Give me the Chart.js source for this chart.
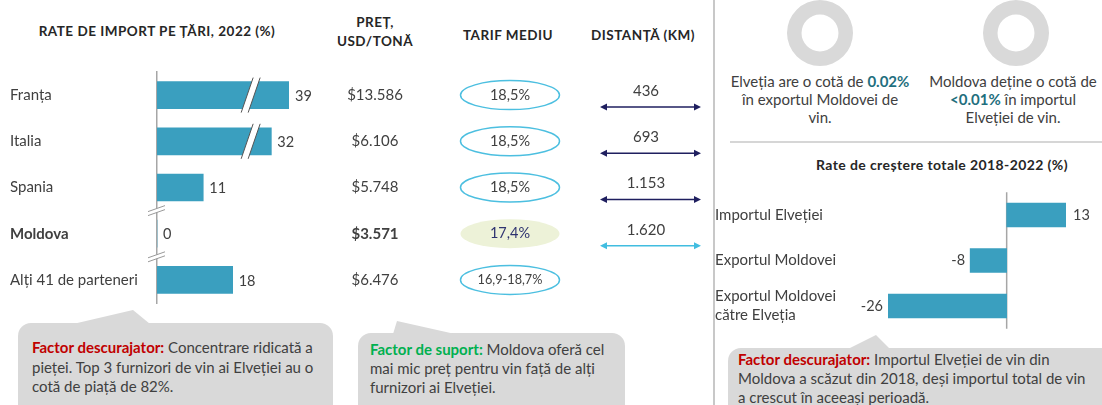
<!DOCTYPE html>
<html>
<head>
<meta charset="utf-8">
<script src="https://cdn.jsdelivr.net/npm/chart.js@4.4.1/dist/chart.umd.min.js"></script>
<style>
  body { margin: 0; width: 1102px; height: 405px; overflow: hidden; background: #fff; position: relative;
         font-family: Lato, "Open Sans", sans-serif; color: #404040; }
  .abs { position: absolute; white-space: nowrap; }
  .hdr { font-weight: bold; font-size: 13.5px; letter-spacing: 0.5px; color: #262626; text-align: center; }
  .txt { font-size: 15px; line-height: 19.5px; }
  .red { color: #c00000; font-weight: bold; }
  .green { color: #00b050; font-weight: bold; }
  .teal { color: #1f6f7e; font-weight: bold; }
  canvas { position: absolute; }
</style>
</head>
<body>

<svg class="abs" style="left:0;top:0" width="1102" height="405">
  <line x1="714" y1="0" x2="714" y2="405" stroke="#c8c8c8" stroke-width="2"/>
  <line x1="730" y1="142" x2="1102" y2="142" stroke="#c8c8c8" stroke-width="1.5"/>
  <!-- baloane -->
  <rect x="18" y="323" width="315" height="110" rx="13" fill="#d9d9d9"/>
  <polygon points="73,324 133,310 150,324" fill="#d9d9d9"/>
  <rect x="358" y="333" width="267" height="110" rx="13" fill="#d9d9d9"/>
  <polygon points="393,334 397,321 455,334" fill="#d9d9d9"/>
  <rect x="728" y="348" width="390" height="110" rx="13" fill="#d9d9d9"/>
  <polygon points="848,349 876,335 890,349" fill="#d9d9d9"/>
</svg>

<div class="abs hdr" style="left:0;top:23px;width:314px;line-height:16px">RATE DE IMPORT PE ȚĂRI, 2022 (%)</div>
<div class="abs hdr" style="left:315px;top:13px;width:120px;line-height:19px">PREȚ,<br>USD/TONĂ</div>
<div class="abs hdr" style="left:448px;top:27px;width:120px;line-height:16px">TARIF MEDIU</div>
<div class="abs hdr" style="left:573px;top:27px;width:140px;line-height:16px">DISTANȚĂ (KM)</div>

<canvas id="importChart" width="710" height="255" style="left:0;top:60px"></canvas>

<canvas id="ringElvetia" width="66" height="66" style="left:787px;top:0"></canvas>
<canvas id="ringMoldova" width="66" height="66" style="left:983px;top:0"></canvas>

<div class="abs txt" style="left:715px;top:72px;width:210px;text-align:center;line-height:18px">
  Elveția are o cotă de <span class="teal">0.02%</span><br>în exportul Moldovei de<br>vin.</div>
<div class="abs txt" style="left:918px;top:72px;width:190px;text-align:center;line-height:18px">
  Moldova deține o cotă de<br><span class="teal">&lt;0.01%</span> în importul<br>Elveției de vin.</div>

<div class="abs hdr" style="left:782px;top:157px;width:320px;line-height:16px;font-size:14px;letter-spacing:0.4px">Rate de creștere totale 2018-2022 (%)</div>

<canvas id="growthChart" width="387" height="160" style="left:715px;top:180px"></canvas>

<div class="abs txt" style="left:32px;top:338px">
  <span class="red">Factor descurajator:</span> Concentrare ridicată a<br>pieței. Top 3 furnizori de vin ai Elveției au o<br>cotă de piață de 82%.</div>
<div class="abs txt" style="left:370px;top:340px;line-height:19px">
  <span class="green">Factor de suport:</span> Moldova oferă cel<br>mai mic preț pentru vin față de alți<br>furnizori ai Elveției.</div>
<div class="abs txt" style="left:738px;top:350px;line-height:19px">
  <span class="red">Factor descurajator:</span> Importul Elveției de vin din<br>Moldova a scăzut din 2018, deși importul total de vin<br>a crescut în aceeași perioadă.</div>

<script>
// date
const tari = ['Franța', 'Italia', 'Spania', 'Moldova', 'Alți 41 de parteneri'];
const cotaImport = [39, 32, 11, 0, 18];
const pret = ['$13.586', '$6.106', '$5.748', '$3.571', '$6.476'];
const tarif = ['18,5%', '18,5%', '18,5%', '17,4%', '16,9-18,7%'];
const distanta = ['436', '693', '1.153', '1.620', ''];

const indicatori = ['Importul Elveției', 'Exportul Moldovei', ['Exportul Moldovei', 'către Elveția']];
const cresteri = [13, -8, -26];

const cotaElvetia = [0.02, 99.98];
const cotaMoldova = [0.01, 99.99];

const albastru = '#3a9fbf';
const text = '#404040';
const font = 'Lato, "Open Sans", sans-serif';
const randMoldova = 3;

// axa cu ruptura: peste 20% barele sunt comprimate
const rupere = 20;
const compresie = 0.6;
const semnRupere = 24;

class BrokenScale extends Chart.LinearScale {
    getPixelForValue(v) {
        if (v === null || v === undefined) return NaN;
        const vv = v > rupere ? rupere + (v - rupere) * compresie : v;
        return super.getPixelForValue(vv);
    }
    getValueForPixel(p) {
        const vv = super.getValueForPixel(p);
        return vv > rupere ? rupere + (vv - rupere) / compresie : vv;
    }
}
BrokenScale.id = 'broken';
BrokenScale.defaults = Chart.LinearScale.defaults;
Chart.register(BrokenScale);

Chart.defaults.font.family = font;
Chart.defaults.color = text;

function sageata(ctx, x1, x2, y, culoare) {
    ctx.strokeStyle = culoare;
    ctx.fillStyle = culoare;
    ctx.lineWidth = 1.5;
    ctx.beginPath();
    ctx.moveTo(x1 + 4, y);
    ctx.lineTo(x2 - 4, y);
    ctx.stroke();
    ctx.beginPath();
    ctx.moveTo(x1, y); ctx.lineTo(x1 + 7, y - 3.5); ctx.lineTo(x1 + 7, y + 3.5); ctx.closePath();
    ctx.moveTo(x2, y); ctx.lineTo(x2 - 7, y - 3.5); ctx.lineTo(x2 - 7, y + 3.5); ctx.closePath();
    ctx.fill();
}

const tabelPlugin = {
    id: 'tabel',
    afterDatasetsDraw(chart) {
        const ctx = chart.ctx;
        const xs = chart.scales.x, ys = chart.scales.y;
        const meta = chart.getDatasetMeta(0);
        ctx.save();
        ctx.textBaseline = 'middle';

        meta.data.forEach((bar, i) => {
            const v = cotaImport[i];
            // eticheta valorii
            ctx.fillStyle = text;
            ctx.font = '14.5px ' + font;
            ctx.textAlign = 'left';
            ctx.fillText(v, bar.x + 6, bar.y + 1);

            // ruptura pe bara
            if (v > rupere) {
                const x = xs.getPixelForValue(semnRupere);
                const top = bar.y - bar.height / 2 - 4, bot = bar.y + bar.height / 2 + 4;
                ctx.fillStyle = '#fff';
                ctx.beginPath();
                ctx.moveTo(x - 10, bot); ctx.lineTo(x + 2, top); ctx.lineTo(x + 9, top); ctx.lineTo(x - 3, bot);
                ctx.closePath();
                ctx.fill();
                ctx.strokeStyle = '#555';
                ctx.lineWidth = 1;
                ctx.beginPath();
                ctx.moveTo(x - 10, bot); ctx.lineTo(x + 2, top);
                ctx.moveTo(x - 3, bot); ctx.lineTo(x + 9, top);
                ctx.stroke();
            }

            // coloanele tabelului
            const y = ys.getPixelForValue(i);
            ctx.fillStyle = text;
            ctx.textAlign = 'center';
            ctx.font = (i === randMoldova ? 'bold ' : '') + '15px ' + font;
            ctx.fillText(pret[i], 375, y);

            ctx.beginPath();
            ctx.ellipse(510, y, 49.5, 14.5, 0, 0, Math.PI * 2);
            if (i === randMoldova) {
                ctx.fillStyle = '#edf2d8';
                ctx.fill();
            } else {
                ctx.strokeStyle = '#4cbfe0';
                ctx.lineWidth = 1.5;
                ctx.stroke();
            }
            ctx.fillStyle = i === randMoldova ? '#2e3370' : text;
            ctx.font = (tarif[i].length > 6 ? '12.7px ' : '14.5px ') + font;
            ctx.fillText(tarif[i], 510, y);

            if (distanta[i]) {
                ctx.fillStyle = text;
                ctx.font = '15px ' + font;
                ctx.fillText(distanta[i], 646, y - 4);
                sageata(ctx, 600, 701, y + 12, i === randMoldova ? '#41bde0' : '#1f1f5f');
            }
        });

        // rupturi pe axa
        [2.5, 3.5].forEach(p => {
            const y = ys.getPixelForValue(p);
            const x = xs.getPixelForValue(0);
            ctx.fillStyle = '#fff';
            ctx.beginPath();
            ctx.moveTo(x - 9, y + 1); ctx.lineTo(x + 8, y - 5); ctx.lineTo(x + 8, y - 1); ctx.lineTo(x - 9, y + 5);
            ctx.closePath();
            ctx.fill();
            ctx.strokeStyle = '#999';
            ctx.lineWidth = 1;
            ctx.beginPath();
            ctx.moveTo(x - 9, y + 1); ctx.lineTo(x + 8, y - 5);
            ctx.moveTo(x - 9, y + 5); ctx.lineTo(x + 8, y - 1);
            ctx.stroke();
        });
        ctx.restore();
    }
};

new Chart(document.getElementById('importChart'), {
    type: 'bar',
    data: {
        labels: tari,
        datasets: [{ data: cotaImport, backgroundColor: albastru, barThickness: 27 }]
    },
    options: {
        indexAxis: 'y',
        responsive: false,
        animation: false,
        layout: { padding: { left: 10, right: 421, top: 10.25, bottom: 7.25 } },
        plugins: { legend: { display: false }, tooltip: { enabled: false } },
        scales: {
            x: {
                type: 'broken',
                display: false,
                min: 0,
                max: rupere + (Math.max(...cotaImport) - rupere) * compresie
            },
            y: {
                grid: { display: false },
                border: { display: true, color: '#a6a6a6', width: 1.5 },
                ticks: {
                    crossAlign: 'far',
                    color: text,
                    font: c => ({ size: 15, weight: c.index === randMoldova ? 'bold' : 'normal' })
                },
                afterFit: s => { s.width = 147; }
            }
        }
    },
    plugins: [tabelPlugin]
});

const etichetePlugin = {
    id: 'etichete',
    beforeDatasetsDraw(chart) {
        // linia de zero
        const ctx = chart.ctx;
        const x = chart.scales.x.getPixelForValue(0);
        ctx.save();
        ctx.strokeStyle = '#a6a6a6';
        ctx.lineWidth = 1.5;
        ctx.beginPath();
        ctx.moveTo(x, chart.chartArea.top);
        ctx.lineTo(x, chart.chartArea.bottom);
        ctx.stroke();
        ctx.restore();
    },
    afterDatasetsDraw(chart) {
        const ctx = chart.ctx;
        ctx.save();
        ctx.font = '14.5px ' + font;
        ctx.fillStyle = text;
        ctx.textBaseline = 'middle';
        chart.getDatasetMeta(0).data.forEach((bar, i) => {
            const v = cresteri[i];
            ctx.textAlign = v < 0 ? 'right' : 'left';
            ctx.fillText(v, v < 0 ? bar.x - 5 : bar.x + 7, bar.y);
        });
        ctx.restore();
    }
};

new Chart(document.getElementById('growthChart'), {
    type: 'bar',
    data: {
        labels: indicatori,
        datasets: [{ data: cresteri, backgroundColor: albastru, barThickness: 24 }]
    },
    options: {
        indexAxis: 'y',
        responsive: false,
        animation: false,
        layout: { padding: { left: 0, right: 36, top: 12.25, bottom: 11.25 } },
        plugins: { legend: { display: false }, tooltip: { enabled: false } },
        scales: {
            x: { display: false, min: -26, max: 13 },
            y: {
                grid: { display: false },
                border: { display: false },
                ticks: { crossAlign: 'far', color: text, font: { size: 15, lineHeight: 1.27 } },
                afterFit: s => { s.width = 173; s.paddingTop = 0; s.paddingBottom = 0; }
            }
        }
    },
    plugins: [etichetePlugin]
});

function inel(id, date) {
    new Chart(document.getElementById(id), {
        type: 'doughnut',
        data: { datasets: [{ data: date, backgroundColor: ['#1f6f7e', '#d9d9d9'], borderWidth: 0 }] },
        options: {
            responsive: false,
            animation: false,
            cutout: '56%',
            plugins: { legend: { display: false }, tooltip: { enabled: false } }
        }
    });
}
inel('ringElvetia', cotaElvetia);
inel('ringMoldova', cotaMoldova);
</script>
</body>
</html>
